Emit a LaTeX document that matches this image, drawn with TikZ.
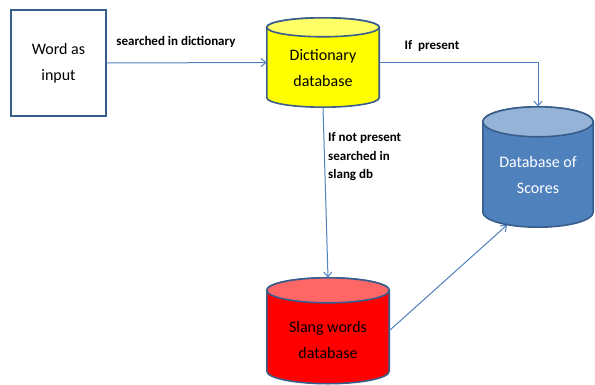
\documentclass[tikz,border=0pt]{standalone}
\usepackage{fontspec}
\setmainfont{Carlito}
\usetikzlibrary{arrows.meta,calc}
\definecolor{bdr}{HTML}{385D8A}
\definecolor{connc}{HTML}{4F81BD}
\definecolor{dictbody}{HTML}{FFFF00}
\definecolor{dicttop}{HTML}{FFFF66}
\definecolor{scbody}{HTML}{4F81BD}
\definecolor{sctop}{HTML}{95B3D7}
\definecolor{slbody}{HTML}{FF0000}
\definecolor{sltop}{HTML}{FF6666}
% cylinder drawn inside the bounds of a named node: name, ry, body colour, top colour
\newcommand{\mycyl}[4]{%
  \filldraw[fill=#3, draw=bdr, line width=1.6pt]
    let \p1=(#1.north west), \p2=(#1.south east), \n1={(\x2-\x1)/2} in
    (\x1,\y1-#2pt) -- (\x1,\y2+#2pt)
    arc[start angle=180, end angle=360, x radius={\n1*1pt}, y radius=#2pt]
    -- (\x2,\y1-#2pt)
    arc[start angle=0, end angle=180, x radius={\n1*1pt}, y radius=#2pt] -- cycle;
  \filldraw[fill=#4, draw=bdr, line width=1.6pt]
    let \p1=(#1.north west), \p2=(#1.south east), \n1={(\x2-\x1)/2}, \n2={(\x1+\x2)/2} in
    ({\n2*1pt},\y1-#2pt) ellipse[x radius={\n1*1pt}, y radius=#2pt];
}
\begin{document}
\begin{tikzpicture}[x=1pt,y=1pt,
  conn/.style={draw=connc, line width=1pt, -{Straight Barb[length=5pt,width=8pt]}},
  ntext/.style={font=\fontsize{16}{26}\selectfont, align=center, inner sep=0},
  lbl/.style={font=\bfseries\fontsize{13}{18.5}\selectfont, inner sep=0},
  shapebox/.style={inner sep=0, draw=none}]
\useasboundingbox (0,0) rectangle (595,384);
\fill[white] (0,0) rectangle (595,384);

\node[draw=bdr, line width=2.5pt, fill=white, minimum width=95pt, minimum height=106pt, ntext] (word) at (58.5,321) {Word as\\input};

\node[shapebox, minimum width=112pt, minimum height=89pt] (dict) at (323,321.5) {};
\mycyl{dict}{9.5}{dictbody}{dicttop}
\node[ntext] (dictt) at (323,316) {Dictionary\\database};

\node[shapebox, minimum width=110pt, minimum height=120pt] (scores) at (538,217) {};
\mycyl{scores}{15}{scbody}{sctop}
\node[ntext, text=white] (scorest) at (538,209) {Database of\\Scores};

\node[shapebox, minimum width=122pt, minimum height=105.5pt] (slang) at (328,53.25) {};
\mycyl{slang}{12.5}{slbody}{sltop}
\node[ntext] (slangt) at (328,44) {Slang words\\database};

\coordinate (scin) at (507,159);
\draw[conn] (word.east) -- (dict.west);
\draw[conn] (dict.east) -| (scores.north);
\draw[conn] (dict.south) -- (slang.north);
\draw[conn] (slang.east) -- (scin);

\node[lbl] (l1) at (176,342) {searched in dictionary};
\node[lbl] (l2) at (432,338) {If\ \ present};
\node[lbl, anchor=west, align=left] (l3) at (328,227) {If not present\\searched in\\slang db};
\end{tikzpicture}
\end{document}
